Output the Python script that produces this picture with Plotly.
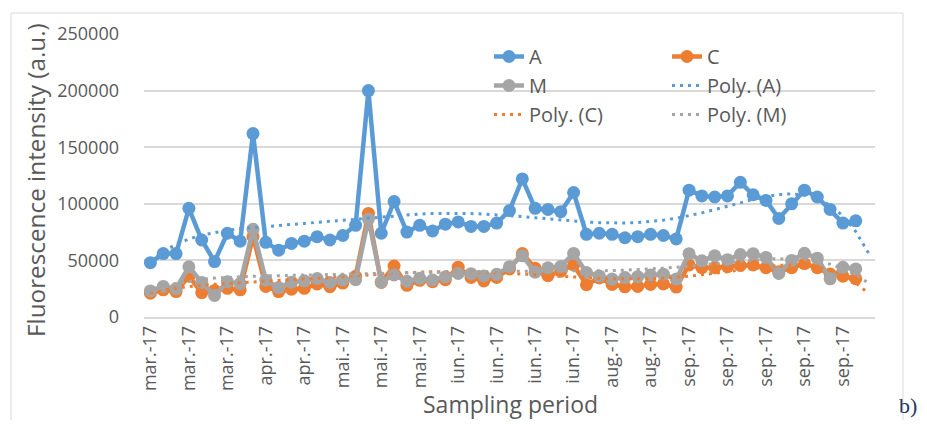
import numpy as np
import plotly.graph_objects as go

# ---- data ----
tick_labels = ["mar.-17", "mar.-17", "mar.-17", "apr.-17", "apr.-17", "mai.-17", "mai.-17",
               "mai.-17", "iun.-17", "iun.-17", "iun.-17", "iun.-17", "aug.-17", "aug.-17",
               "sep.-17", "sep.-17", "sep.-17", "sep.-17", "sep.-17"]
n_categories = 57      # sampling slots on the category axis
label_step = 3         # a label is shown on every 3rd slot

A = [48000, 56000, 56000, 96000, 68000, 49000, 74000, 67000, 162000, 66000,
     59000, 65000, 67000, 71000, 68000, 72000, 81000, 200000, 74000, 102000,
     75000, 81000, 76000, 82000, 84000, 80000, 80000, 83000, 94000, 122000,
     96000, 95000, 93000, 110000, 73000, 74000, 73000, 70000, 71000, 73000,
     72000, 69000, 112000, 107000, 106000, 107000, 119000, 108000, 103000, 87000,
     100000, 112000, 106000, 95000, 83000, 85000]
C = [21000, 24000, 22500, 36000, 21500, 23500, 25300, 24000, 71000, 27000,
     22500, 24500, 25300, 29200, 26800, 30000, 36000, 91500, 30500, 45000,
     28000, 32400, 31200, 33000, 44000, 35000, 31800, 35000, 42500, 56000,
     43000, 36500, 40500, 46000, 28500, 34500, 28800, 26700, 27000, 28800,
     29200, 26400, 46000, 43500, 43500, 44500, 45500, 46000, 43500, 40000,
     43500, 47200, 43500, 38000, 36000, 33800]
M = [23000, 27000, 25000, 44400, 30500, 19000, 31200, 29500, 77500, 32500,
     26000, 30800, 32000, 34000, 30500, 32700, 33000, 86500, 31000, 37100,
     31500, 34200, 32700, 35500, 38500, 38300, 36300, 37700, 44500, 54000,
     39600, 43400, 44700, 56200, 39300, 36300, 33500, 34900, 35600, 37100,
     37800, 33500, 55900, 49600, 54000, 50600, 55200, 55900, 52600, 38500,
     50000, 56300, 52000, 33700, 43900, 42500]

series = [("A", A, "#5B9BD5"), ("C", C, "#ED7D31"), ("M", M, "#A5A5A5")]

FONT = "Open Sans"
GREY_TXT = "#595959"
GRID = "#D9D9D9"

fig = go.Figure()

# main series
for name, vals, col in series:
    x = np.arange(len(vals))
    fig.add_trace(go.Scatter(
        x=x, y=vals, name=name, mode="lines+markers",
        line=dict(color=col, width=4.5),
        marker=dict(color=col, size=13),
        legend="legend" if name in ("A", "M") else "legend2",
        legendgroup=name,
    ))

# polynomial trendlines (order 6, as Excel computes them), extended one slot forward
for name, vals, col in series:
    xs = np.arange(1, len(vals) + 1)
    poly = np.polynomial.Polynomial.fit(xs, vals, 6)
    xe = np.arange(1, n_categories + 1)
    fig.add_trace(go.Scatter(
        x=xe - 1, y=poly(xe), name=f"Poly. ({name})", mode="lines",
        line=dict(color=col, width=3, dash="3px,5px"),
        legend="legend" if name == "C" else "legend2",
        legendgroup="p" + name,
    ))

tickvals = list(range(0, n_categories, label_step))[:len(tick_labels)]

# the page has an 8px body margin on every side: keep the figure inside the window
OFF = 8
W, H = 927 - 2 * OFF, 428 - 2 * OFF
L, T = 144 - OFF, 34 - OFF
plot_right, plot_bottom = 875 - OFF, 317 - OFF
R, B = W - plot_right, H - plot_bottom
pw, ph = plot_right - L, plot_bottom - T

def px(xp):   # page x pixel -> paper coordinate
    return (xp - OFF - L) / pw

def py(yp):   # page y pixel -> paper coordinate
    return (plot_bottom - (yp - OFF)) / ph

legend_common = dict(
    bgcolor="rgba(0,0,0,0)", borderwidth=0,
    font=dict(family=FONT, size=20, color=GREY_TXT),
    orientation="v", tracegroupgap=0,
    xanchor="left", yanchor="top",
)

fig.update_layout(
    width=W, height=H,
    margin=dict(l=L, r=R, t=T, b=B),
    paper_bgcolor="white", plot_bgcolor="white",
    showlegend=True,
    legend=dict(x=px(489), y=py(37), **legend_common),
    legend2=dict(x=px(667), y=py(37), **legend_common),
    xaxis=dict(
        range=[-0.5, n_categories - 0.5],
        tickmode="array", tickvals=tickvals, ticktext=tick_labels,
        tickangle=-90, showgrid=False, zeroline=False,
        showline=True, linecolor=GRID, linewidth=1.5,
        tickfont=dict(family=FONT, size=18, color=GREY_TXT),
        ticks="",
    ),
    yaxis=dict(
        range=[0, 250000], tickmode="array",
        tickvals=[0, 50000, 100000, 150000, 200000, 250000],
        ticktext=["0", "50000", "100000", "150000", "200000", "250000"],
        showgrid=True, gridcolor=GRID, gridwidth=1.5, zeroline=False,
        showline=False,
        tickfont=dict(family=FONT, size=18, color=GREY_TXT),
        ticklabelstandoff=24,
    ),
    annotations=[
        dict(text="Fluorescence intensity (a.u.)", xref="paper", yref="paper",
             x=px(35), y=py(180), textangle=-90, showarrow=False,
             xanchor="center", yanchor="middle",
             font=dict(family=FONT, size=24.3, color=GREY_TXT)),
        dict(text="Sampling period", xref="paper", yref="paper",
             x=px(510), y=py(404), showarrow=False,
             xanchor="center", yanchor="middle",
             font=dict(family=FONT, size=23, color=GREY_TXT)),
        dict(text="b)", xref="paper", yref="paper",
             x=px(919), y=py(405), showarrow=False,
             xanchor="right", yanchor="middle",
             font=dict(family="Liberation Serif", size=22, color="#1F3864")),
    ],
    shapes=[
        dict(type="rect", xref="paper", yref="paper",
             x0=px(11), x1=px(903), y0=py(13), y1=py(440),
             line=dict(color=GRID, width=1), fillcolor="rgba(0,0,0,0)", layer="below"),
    ],
)

fig.write_html("out.html")
